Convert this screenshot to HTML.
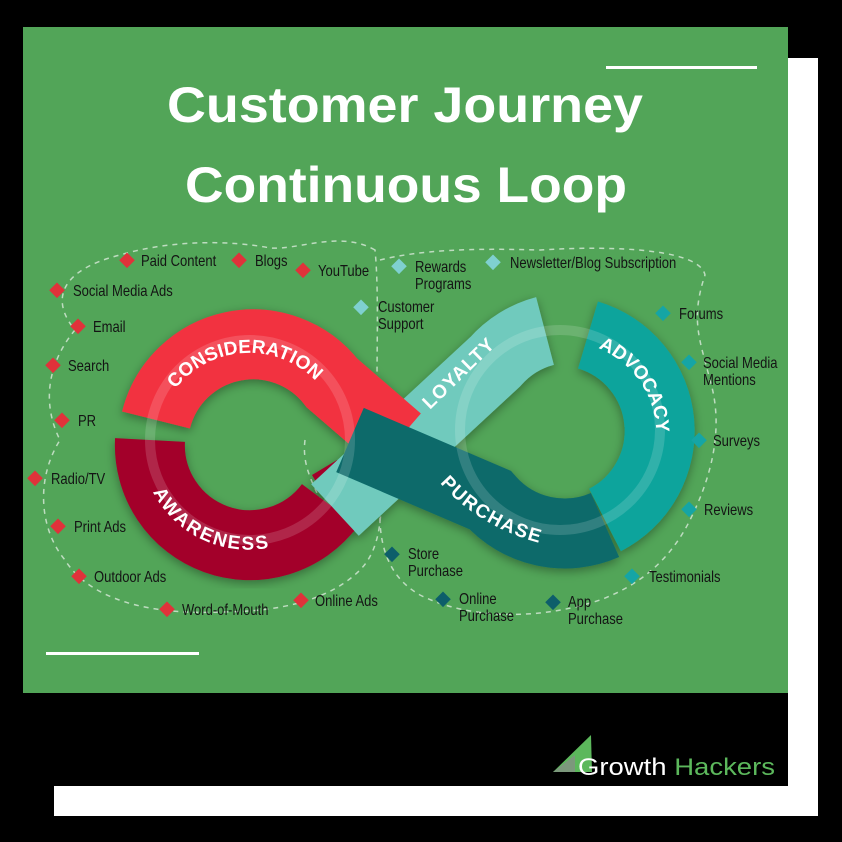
<!DOCTYPE html>
<html><head><meta charset="utf-8"><style>
html,body{margin:0;padding:0;background:#000;width:842px;height:842px;overflow:hidden}
svg{display:block}
.l text{font-family:"Liberation Sans",sans-serif;font-size:15.5px;fill:#141414}
.b{font-family:"Liberation Sans",sans-serif;font-weight:bold;fill:#fff;font-size:19px;letter-spacing:1px}
</style></head><body>
<svg width="842" height="842" viewBox="0 0 842 842" xmlns="http://www.w3.org/2000/svg">
<defs>
<filter id="sh" x="-20%" y="-20%" width="140%" height="140%"><feDropShadow dx="0" dy="3" stdDeviation="5" flood-color="#000" flood-opacity="0.35"/></filter>
<path id="pCon" d="M153,418 A100,100 0 0 1 332,390 L390,440"/>
<path id="pAw" d="M148,445 A100,100 0 0 0 321,511"/>
<path id="pAd" d="M590,338 A100,100 0 0 1 615,520"/>
<path id="pLo" d="M425,405 L510,322"/>
<path id="pPu" d="M445,478 Q500,540 600,545"/>
</defs>
<rect x="0" y="0" width="842" height="842" fill="#000"/>
<rect x="54" y="58" width="764" height="758" fill="#fff"/>
<rect x="23" y="27" width="765" height="666" fill="#52a558"/>
<rect x="23" y="693" width="765" height="93" fill="#000"/>
<rect x="606" y="66" width="151" height="3" fill="#fff"/>
<rect x="46" y="652" width="153" height="3" fill="#fff"/>
<text x="405" y="122" text-anchor="middle" textLength="476" lengthAdjust="spacingAndGlyphs" font-family="Liberation Sans,sans-serif" font-weight="bold" font-size="50" fill="#fff">Customer Journey</text>
<text x="406" y="202" text-anchor="middle" textLength="442" lengthAdjust="spacingAndGlyphs" font-family="Liberation Sans,sans-serif" font-weight="bold" font-size="50" fill="#fff">Continuous Loop</text>

<g fill="none" stroke="#d9eadb" stroke-width="1.5" stroke-dasharray="5,5" opacity="0.8">
<path d="M375,250 C340,230 300,250 270,248 C230,240 170,240 120,255 C60,270 50,300 75,330 C50,360 40,400 60,440 C35,480 40,530 65,560 C90,600 150,615 220,612 C280,612 330,600 360,570 C390,540 380,480 378,440 C375,380 380,300 375,250 Z"/>
<path d="M380,260 C420,250 470,248 540,250 C620,245 700,250 705,275 C690,320 700,340 710,380 C725,430 710,480 690,520 C670,560 640,585 600,600 C540,620 470,620 420,595 C385,575 378,540 380,500"/>
<path d="M305,440 C300,480 330,500 330,540"/>
</g>

<g filter="url(#sh)" fill="none" stroke-width="70">
<path d="M150,440 A100,100 0 0 0 330,505" stroke="#a3002a"/>
<path d="M330,505 L355,490" stroke="#a3002a"/>
<path d="M335,510 L495,362 A100,100 0 0 1 545,331" stroke="#6fcabd"/>
<path d="M156,420 A100,100 0 0 1 332,383 L398,440" stroke="#f2333f"/>
<path d="M605,525 A100,100 0 0 1 490,500 L350,440" stroke="#0b6a6a"/>
<path d="M588,335 A100,100 0 0 1 605,520" stroke="#0fa49c"/>
</g>
<g fill="none" stroke="#fff" stroke-width="10" opacity="0.15">
<circle cx="250" cy="440" r="100"/>
<circle cx="560" cy="430" r="100"/>
</g>

<text class="b" dy="7"><textPath href="#pCon" startOffset="38">CONSIDERATION</textPath></text>
<text class="b" dy="7"><textPath href="#pAw" startOffset="45">AWARENESS</textPath></text>
<text class="b" dy="7"><textPath href="#pAd" startOffset="12">ADVOCACY</textPath></text>
<text class="b" dy="7"><textPath href="#pLo">LOYALTY</textPath></text>
<text class="b" dy="7"><textPath href="#pPu">PURCHASE</textPath></text>

<g fill="#e0323a">
<rect x="121" y="255" width="11" height="11" transform="rotate(45 127 261)"/>
<rect x="233" y="255" width="11" height="11" transform="rotate(45 239 261)"/>
<rect x="297" y="265" width="11" height="11" transform="rotate(45 303 271)"/>
<rect x="51" y="285" width="11" height="11" transform="rotate(45 57 291)"/>
<rect x="72" y="321" width="11" height="11" transform="rotate(45 78 327)"/>
<rect x="47" y="360" width="11" height="11" transform="rotate(45 53 366)"/>
<rect x="56" y="415" width="11" height="11" transform="rotate(45 62 421)"/>
<rect x="29" y="473" width="11" height="11" transform="rotate(45 35 479)"/>
<rect x="52" y="521" width="11" height="11" transform="rotate(45 58 527)"/>
<rect x="73" y="571" width="11" height="11" transform="rotate(45 79 577)"/>
<rect x="161" y="604" width="11" height="11" transform="rotate(45 167 610)"/>
<rect x="295" y="595" width="11" height="11" transform="rotate(45 301 601)"/>
</g>
<g fill="#7fd0d0">
<rect x="393" y="261" width="11" height="11" transform="rotate(45 399 267)"/>
<rect x="487" y="257" width="11" height="11" transform="rotate(45 493 263)"/>
<rect x="355" y="302" width="11" height="11" transform="rotate(45 361 308)"/>
</g>
<g fill="#15a5a5">
<rect x="657" y="308" width="11" height="11" transform="rotate(45 663 314)"/>
<rect x="683" y="357" width="11" height="11" transform="rotate(45 689 363)"/>
<rect x="693" y="435" width="11" height="11" transform="rotate(45 699 441)"/>
<rect x="683" y="504" width="11" height="11" transform="rotate(45 689 510)"/>
<rect x="626" y="571" width="11" height="11" transform="rotate(45 632 577)"/>
</g>
<g fill="#0d5e6a">
<rect x="386" y="549" width="11" height="11" transform="rotate(45 392 555)"/>
<rect x="437" y="594" width="11" height="11" transform="rotate(45 443 600)"/>
<rect x="547" y="597" width="11" height="11" transform="rotate(45 553 603)"/>
</g>

<g class="l">
<g transform="translate(141,266) scale(.84,1)"><text>Paid Content</text></g>
<g transform="translate(255,266) scale(.84,1)"><text>Blogs</text></g>
<g transform="translate(318,276) scale(.84,1)"><text>YouTube</text></g>
<g transform="translate(73,296) scale(.84,1)"><text>Social Media Ads</text></g>
<g transform="translate(93,332) scale(.84,1)"><text>Email</text></g>
<g transform="translate(68,371) scale(.84,1)"><text>Search</text></g>
<g transform="translate(78,426) scale(.84,1)"><text>PR</text></g>
<g transform="translate(51,484) scale(.84,1)"><text>Radio/TV</text></g>
<g transform="translate(74,532) scale(.84,1)"><text>Print Ads</text></g>
<g transform="translate(94,582) scale(.84,1)"><text>Outdoor Ads</text></g>
<g transform="translate(182,615) scale(.84,1)"><text>Word-of-Mouth</text></g>
<g transform="translate(315,606) scale(.84,1)"><text>Online Ads</text></g>
<g transform="translate(415,272) scale(.84,1)"><text>Rewards</text><text y="17">Programs</text></g>
<g transform="translate(510,268) scale(.84,1)"><text>Newsletter/Blog Subscription</text></g>
<g transform="translate(378,312) scale(.84,1)"><text>Customer</text><text y="17">Support</text></g>
<g transform="translate(679,319) scale(.84,1)"><text>Forums</text></g>
<g transform="translate(703,368) scale(.84,1)"><text>Social Media</text><text y="17">Mentions</text></g>
<g transform="translate(713,446) scale(.84,1)"><text>Surveys</text></g>
<g transform="translate(704,515) scale(.84,1)"><text>Reviews</text></g>
<g transform="translate(649,582) scale(.84,1)"><text>Testimonials</text></g>
<g transform="translate(408,559) scale(.84,1)"><text>Store</text><text y="17">Purchase</text></g>
<g transform="translate(459,604) scale(.84,1)"><text>Online</text><text y="17">Purchase</text></g>
<g transform="translate(568,607) scale(.84,1)"><text>App</text><text y="17">Purchase</text></g>
</g>

<polygon points="553,772 591,735 592,772" fill="#5cb85c"/>
<polygon points="553,772 575,755 575,772" fill="#8a8a8a" opacity="0.7"/>
<text x="578" y="775" textLength="197" lengthAdjust="spacingAndGlyphs" font-family="Liberation Sans,sans-serif" font-size="24" fill="#fff">Growth <tspan fill="#5cb85c">Hackers</tspan></text>
</svg>
</body></html>
